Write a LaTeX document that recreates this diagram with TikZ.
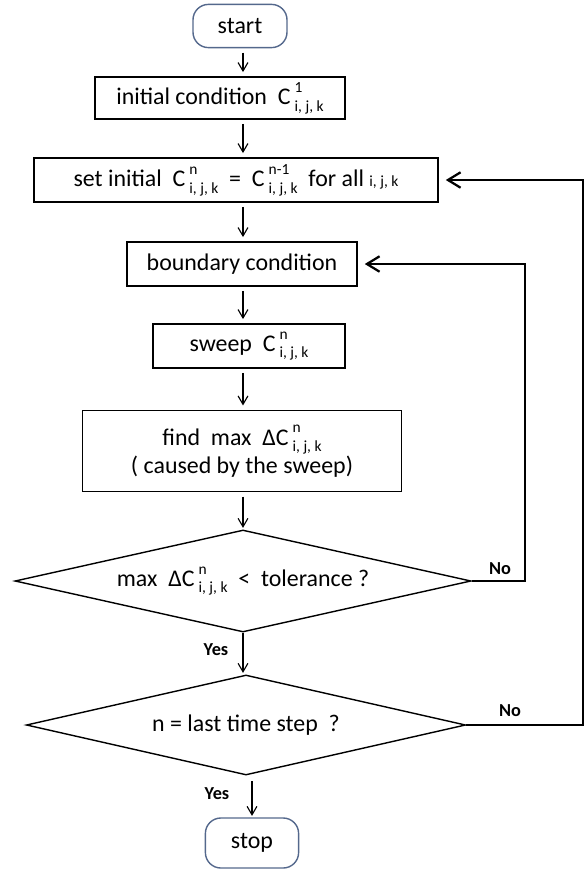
\documentclass[tikz,border=0pt]{standalone}
\usepackage{fontspec}
\setmainfont{Carlito}
\usetikzlibrary{shapes.geometric,arrows.meta}
\definecolor{term edge}{RGB}{84,104,140}
\newcommand{\cval}[1]{C\,\makebox[0pt][l]{\raisebox{1.1ex}{\fontsize{11}{11}\selectfont #1}}\raisebox{-0.55ex}{\fontsize{11}{11}\selectfont i, j, k}}
\tikzset{terminal/.style={draw=term edge, line width=1pt, rounded corners=11pt, minimum width=2.35cm, minimum height=1.08cm},
	process/.style={draw, line width=1pt, minimum height=1.05cm, align=center},
	decision/.style={draw, diamond, line width=1pt, inner sep=0pt, aspect=5},
	down/.style={-{Straight Barb[length=6pt,width=7pt]}, line width=0.8pt, shorten <=3pt, shorten >=3pt},
	back/.style={-{Straight Barb[length=9pt,width=11pt]}, line width=1.6pt, shorten >=5pt},
	answer/.style={font=\bfseries\fontsize{13}{13}\selectfont}}

\begin{document}
\begin{tikzpicture}[x=0.025cm, y=-0.025cm, font=\fontsize{17}{20}\selectfont]
		\useasboundingbox (0,0) rectangle (587,871);
		\coordinate (col) at (243,0);
		\coordinate (inner) at (525,0);
		\coordinate (outer) at (583,0);
		
		\node[terminal] (start) at (240,26) {start};
		\node[process, minimum width=6.25cm] (init) at (220,98) {initial condition \ \cval{1}};
		\node[process, minimum width=10.1cm, minimum height=1.1cm] (setinit) at (236,180) {set initial \ \cval{n} \ = \ \cval{n-1} \ for all {\fontsize{11}{11}\selectfont i, j, k}};
		\node[process, minimum width=5.75cm, minimum height=1.1cm] (bound) at (242,264) {boundary condition};
		\node[process, minimum width=4.8cm, minimum height=1.1cm] (sweep) at (249,346) {sweep \ \cval{n}};
		\node[process, minimum width=7.97cm, minimum height=2.03cm] (find) at (242,451) {find \ max \ Δ\cval{n}\\( caused by the sweep)};
		\node[decision, minimum width=11.4cm, minimum height=2.55cm] (tol) at (243,581) {max \ Δ\cval{n} \ < \ tolerance ?};
		\node[decision, minimum width=10.98cm, minimum height=2.5cm] (last) at (246,725) {n = last time step \ ?};
		\node[terminal, minimum width=2.33cm, minimum height=1.25cm] (stop) at (252,843) {stop};
		
		\draw[down] (start.south -| col) -- (init.north -| col);
		\draw[down] (init.south -| col) -- (setinit.north -| col);
		\draw[down] (setinit.south -| col) -- (bound.north -| col);
		\draw[down] (bound.south -| col) -- (sweep.north -| col);
		\draw[down] (sweep.south -| col) -- (find.north -| col);
		\draw[down, shorten >=1pt] (find.south -| col) -- (tol.north -| col);
		\draw[down, shorten <=0pt, shorten >=1pt] (tol.south -| col) -- (last.north -| col);
		\draw[down, shorten <=4pt, shorten >=1pt] (last.south -| stop) -- (stop.north);
		
		\draw[back] (tol.east) -- (tol.east -| inner) -- (bound.east -| inner) -- (bound.east);
		\draw[back] (last.east) -- (last.east -| outer) -- (setinit.east -| outer) -- (setinit.east);
		
		\node[answer] (no1) at (500,569) {No};
		\node[answer] (no2) at (510,711) {No};
		\node[answer] (yes1) at (216,650) {Yes};
		\node[answer] (yes2) at (217,794) {Yes};
		\end{tikzpicture}
\end{document}
